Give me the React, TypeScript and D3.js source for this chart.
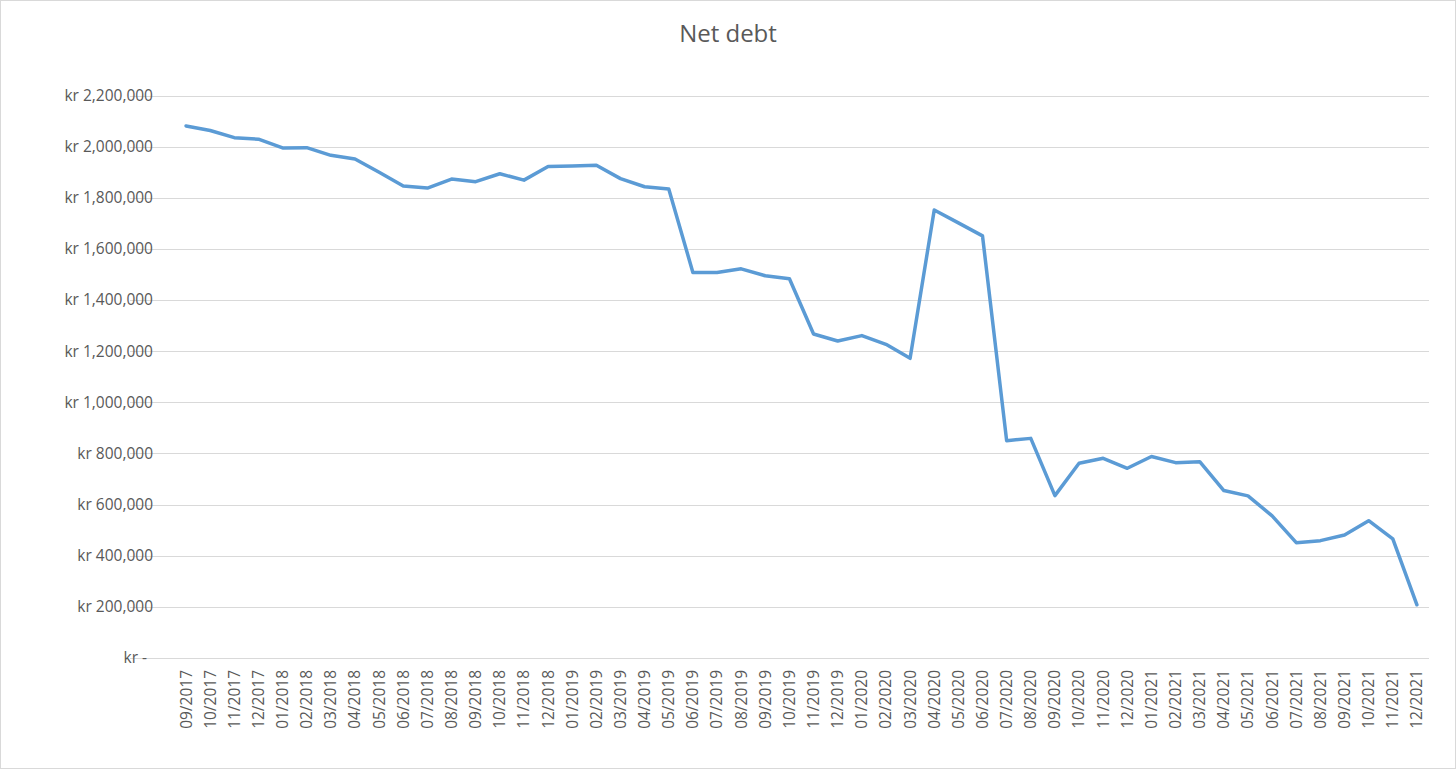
import React from "react";
import * as d3 from "d3";

const months: string[] = [
  "09/2017","10/2017","11/2017","12/2017",
  "01/2018","02/2018","03/2018","04/2018","05/2018","06/2018","07/2018","08/2018","09/2018","10/2018","11/2018","12/2018",
  "01/2019","02/2019","03/2019","04/2019","05/2019","06/2019","07/2019","08/2019","09/2019","10/2019","11/2019","12/2019",
  "01/2020","02/2020","03/2020","04/2020","05/2020","06/2020","07/2020","08/2020","09/2020","10/2020","11/2020","12/2020",
  "01/2021","02/2021","03/2021","04/2021","05/2021","06/2021","07/2021","08/2021","09/2021","10/2021","11/2021","12/2021",
];

const netDebt: number[] = [
  2081000, 2063000, 2035000, 2029000,
  1995000, 1996000, 1966000, 1952000, 1900000, 1846000, 1838000, 1873000, 1863000, 1894000, 1869000, 1922000,
  1924000, 1927000, 1875000, 1843000, 1834000, 1508000, 1508000, 1522000, 1495000, 1483000, 1267000, 1240000,
  1261000, 1227000, 1172000, 1752000, 1702000, 1651000, 850000, 859000, 635000, 762000, 781000, 742000,
  788000, 764000, 768000, 655000, 634000, 556000, 451000, 459000, 481000, 537000, 466000, 208000,
];

const yTicks: number[] = [0, 200000, 400000, 600000, 800000, 1000000, 1200000, 1400000, 1600000, 1800000, 2000000, 2200000];

const title = "Net debt";

const W = 1456;
const H = 769;
const plot = { left: 174, right: 1429, top: 95.5, bottom: 658 };

const fmt = d3.format(",");
const yLabel = (v: number) => (v === 0 ? "kr -" : `kr ${fmt(v)}`);

export default function App() {
  const x = d3.scaleBand<string>().domain(months).range([plot.left, plot.right]);
  const y = d3.scaleLinear().domain([0, 2200000]).range([plot.bottom, plot.top]);
  const line = d3
    .line<number>()
    .x((_, i) => (x(months[i]) as number) + x.bandwidth() / 2)
    .y((d) => y(d));

  const font = "'Open Sans', 'Noto Sans', sans-serif";

  return (
    <svg
      width={W}
      height={H}
      style={{ position: "absolute", left: 0, top: 0, display: "block", background: "#fff" }}
    >
      <rect x={0.5} y={0.5} width={W - 1} height={H - 1} fill="#fff" stroke="#D9D9D9" strokeWidth={1} />
      <text x={728} y={42} textAnchor="middle" fontFamily={font} fontSize={24} fill="#595959">
        {title}
      </text>
      {yTicks.map((t) => (
        <g key={t}>
          <line
            x1={plot.left - 44}
            x2={plot.right}
            y1={Math.round(y(t)) + 0.5}
            y2={Math.round(y(t)) + 0.5}
            stroke="#D9D9D9"
            strokeWidth={1}
          />
          <text
            x={t === 0 ? 147 : 153}
            y={y(t)}
            dy="0.35em"
            textAnchor="end"
            fontFamily={font}
            fontSize={15.5}
            fill="#595959"
          >
            {yLabel(t)}
          </text>
        </g>
      ))}
      {months.map((m) => {
        const cx = (x(m) as number) + x.bandwidth() / 2;
        return (
          <text
            key={m}
            transform={`translate(${cx},${plot.bottom + 12}) rotate(-90)`}
            textAnchor="end"
            dy="0.35em"
            fontFamily={font}
            fontSize={15.5}
            fill="#595959"
          >
            {m}
          </text>
        );
      })}
      <path
        d={line(netDebt) || ""}
        fill="none"
        stroke="#5B9BD5"
        strokeWidth={3.5}
        strokeLinejoin="round"
        strokeLinecap="round"
      />
    </svg>
  );
}
